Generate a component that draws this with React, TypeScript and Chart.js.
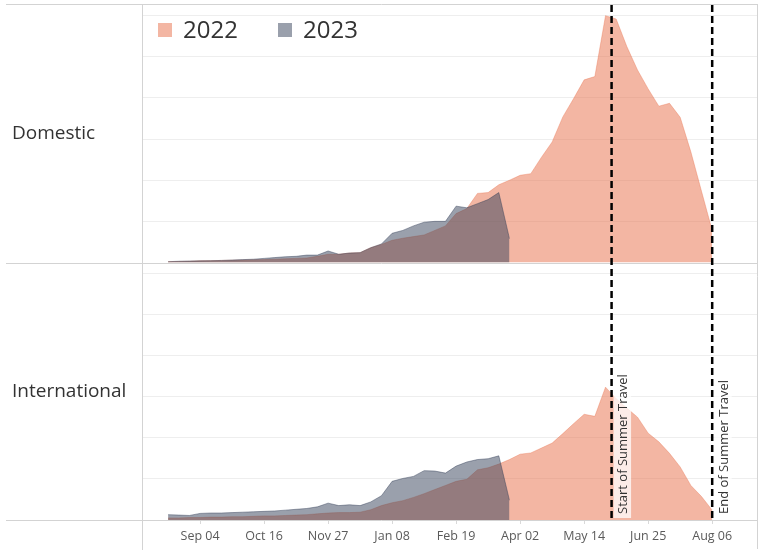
import React, { useEffect, useRef } from 'react';
import { Chart, registerables } from 'chart.js';

Chart.register(...registerables);

// ---- data ----
const weekLabels = [
  'Aug 14', 'Aug 21', 'Aug 28', 'Sep 04', 'Sep 11', 'Sep 18', 'Sep 25', 'Oct 02', 'Oct 09', 'Oct 16',
  'Oct 23', 'Oct 30', 'Nov 06', 'Nov 13', 'Nov 20', 'Nov 27', 'Dec 04', 'Dec 11', 'Dec 18', 'Dec 25',
  'Jan 01', 'Jan 08', 'Jan 15', 'Jan 22', 'Jan 29', 'Feb 05', 'Feb 12', 'Feb 19', 'Feb 26', 'Mar 05',
  'Mar 12', 'Mar 19', 'Mar 26', 'Apr 02', 'Apr 09', 'Apr 16', 'Apr 23', 'Apr 30', 'May 07', 'May 14',
  'May 21', 'May 28', 'Jun 04', 'Jun 11', 'Jun 18', 'Jun 25', 'Jul 02', 'Jul 09', 'Jul 16', 'Jul 23',
  'Jul 30', 'Aug 06',
];
const tickWeekIndices = [3, 9, 15, 21, 27, 33, 39, 45, 51];

const domestic2022 = [
  0.02, 0.025, 0.03, 0.04, 0.045, 0.05, 0.055, 0.06, 0.065, 0.07,
  0.08, 0.09, 0.10, 0.11, 0.15, 0.20, 0.20, 0.23, 0.24, 0.36,
  0.44, 0.54, 0.59, 0.63, 0.67, 0.78, 0.89, 1.19, 1.31, 1.68,
  1.70, 1.89, 2.00, 2.12, 2.16, 2.56, 2.93, 3.54, 3.98, 4.44,
  4.52, 6.00, 5.92, 5.25, 4.68, 4.22, 3.80, 3.87, 3.53, 2.69,
  1.73, 0.78,
];
const domestic2023 = [
  0.02, 0.03, 0.035, 0.04, 0.045, 0.05, 0.06, 0.07, 0.08, 0.10,
  0.12, 0.14, 0.15, 0.18, 0.18, 0.28, 0.20, 0.23, 0.24, 0.36,
  0.45, 0.71, 0.78, 0.89, 0.98, 1.00, 1.00, 1.37, 1.33, 1.43,
  1.53, 1.70, 0.58,
];
const international2022 = [
  0.05, 0.05, 0.06, 0.06, 0.07, 0.07, 0.08, 0.08, 0.09, 0.10,
  0.10, 0.11, 0.12, 0.13, 0.15, 0.17, 0.18, 0.18, 0.19, 0.25,
  0.35, 0.42, 0.47, 0.55, 0.64, 0.74, 0.84, 0.94, 0.99, 1.22,
  1.27, 1.36, 1.47, 1.60, 1.63, 1.75, 1.87, 2.10, 2.34, 2.57,
  2.52, 3.23, 2.95, 2.72, 2.50, 2.11, 1.90, 1.62, 1.29, 0.84,
  0.57, 0.24,
];
const international2023 = [
  0.13, 0.12, 0.11, 0.16, 0.17, 0.17, 0.18, 0.19, 0.20, 0.21,
  0.22, 0.24, 0.26, 0.28, 0.32, 0.41, 0.35, 0.37, 0.35, 0.44,
  0.59, 0.94, 1.01, 1.06, 1.20, 1.19, 1.14, 1.31, 1.41, 1.47,
  1.49, 1.56, 0.48,
];
const yGridValues = [0, 1, 2, 3, 4, 5, 6];
const seriesNames = ['2022', '2023'];
const rowNames = ['Domestic', 'International'];
const markerWeeks = [41.57, 51];
const markerLabels = ['Start of Summer Travel', 'End of Summer Travel'];

const COLOR_2022 = 'rgba(231,109,71,0.5)';
const COLOR_2023 = 'rgba(53,65,89,0.5)';
const LINE_2022 = 'rgba(231,109,71,0.35)';
const LINE_2023 = 'rgba(53,65,89,0.45)';
const FONT = "'Open Sans', 'DejaVu Sans', sans-serif";

const toPoints = (arr: number[]) => arr.map((v, i) => ({ x: i, y: v }));

const decorPlugin = {
  id: 'decor',
  afterDraw(chart: any) {
    const { ctx, chartArea: ca, scales } = chart;
    const yD = scales.yD;
    const yI = scales.yI;
    const x = scales.x;
    ctx.save();

    // panel borders
    ctx.strokeStyle = '#d3d3d3';
    ctx.lineWidth = 1;
    const hline = (y: number, x0: number, x1: number) => {
      const yy = Math.round(y) + 0.5;
      ctx.beginPath();
      ctx.moveTo(x0, yy);
      ctx.lineTo(x1, yy);
      ctx.stroke();
    };
    const vline = (xx: number, y0: number, y1: number) => {
      const xp = Math.round(xx) + 0.5;
      ctx.beginPath();
      ctx.moveTo(xp, y0);
      ctx.lineTo(xp, y1);
      ctx.stroke();
    };
    hline(ca.top - 1, 6, ca.right);
    hline(yD.bottom, 6, ca.right);
    hline(yI.bottom, 6, ca.right);
    vline(ca.left - 1, ca.top - 1, ca.bottom + 30);
    vline(ca.right, ca.top - 1, ca.bottom + 29);

    // markers
    ctx.font = `13px ${FONT}`;
    markerWeeks.forEach((w, i) => {
      const px = x.getPixelForValue(w);
      const label = markerLabels[i];
      const tw = ctx.measureText(label).width;
      ctx.fillStyle = 'rgba(255,255,255,0.75)';
      ctx.fillRect(px + 2, ca.bottom - 2 - tw - 8, 17.5, tw + 8);
      ctx.save();
      ctx.strokeStyle = '#000';
      ctx.lineWidth = 2.5;
      ctx.setLineDash([7, 4]);
      ctx.beginPath();
      ctx.moveTo(px, ca.top);
      ctx.lineTo(px, ca.bottom);
      ctx.stroke();
      ctx.restore();
      ctx.save();
      ctx.translate(px + 15.5, ca.bottom - 6);
      ctx.rotate(-Math.PI / 2);
      ctx.fillStyle = '#333';
      ctx.textAlign = 'left';
      ctx.textBaseline = 'alphabetic';
      ctx.fillText(label, 0, 0);
      ctx.restore();
    });

    // legend
    const legendColors = [COLOR_2022, COLOR_2023];
    const legendX = [158, 278];
    ctx.font = `24px ${FONT}`;
    ctx.textBaseline = 'middle';
    ctx.textAlign = 'left';
    seriesNames.forEach((name, i) => {
      ctx.fillStyle = legendColors[i];
      ctx.fillRect(legendX[i], 23, 14, 14);
      ctx.fillStyle = '#333';
      ctx.fillText(name, legendX[i] + 25, 31);
    });

    // row labels
    ctx.font = `19px ${FONT}`;
    ctx.fillStyle = '#333';
    ctx.fillText(rowNames[0], 12, (yD.top + yD.bottom) / 2);
    ctx.fillText(rowNames[1], 12, (yI.top + yI.bottom) / 2);

    ctx.restore();
  },
};

const yAxis = (id: string) => ({
  type: 'linear' as const,
  stack: 'rows',
  stackWeight: 1,
  min: 0,
  max: 6.26,
  afterBuildTicks: (s: any) => {
    s.ticks = yGridValues.map((v) => ({ value: v }));
  },
  afterFit: (s: any) => {
    s.width = 0;
  },
  ticks: { display: false },
  grid: {
    drawTicks: false,
    color: (c: any) => (c.tick && c.tick.value === 0 ? 'rgba(0,0,0,0)' : '#eeeeee'),
  },
  border: { display: false },
});

export default function App() {
  const ref = useRef<HTMLCanvasElement>(null);

  useEffect(() => {
    if (!ref.current) return;
    const area = (label: string, data: number[], axis: string, color: string, line: string, order: number) => ({
      label,
      data: toPoints(data),
      yAxisID: axis,
      order,
      fill: 'origin',
      backgroundColor: color,
      borderColor: line,
      borderWidth: 1,
      pointRadius: 0,
      pointHoverRadius: 0,
      tension: 0,
    });
    const chart = new Chart(ref.current, {
      type: 'line',
      data: {
        datasets: [
          area(seriesNames[1], domestic2023, 'yD', COLOR_2023, LINE_2023, 0),
          area(seriesNames[0], domestic2022, 'yD', COLOR_2022, LINE_2022, 1),
          area(seriesNames[1], international2023, 'yI', COLOR_2023, LINE_2023, 0),
          area(seriesNames[0], international2022, 'yI', COLOR_2022, LINE_2022, 1),
        ],
      } as any,
      options: {
        animation: false,
        responsive: true,
        maintainAspectRatio: false,
        layout: { padding: { left: 143, right: 14, top: 5, bottom: 0 } },
        plugins: {
          legend: { display: false },
          tooltip: { enabled: false },
        },
        events: [],
        scales: {
          x: {
            type: 'linear',
            min: -2.35,
            max: 55.2,
            afterBuildTicks: (s: any) => {
              s.ticks = tickWeekIndices.map((v) => ({ value: v }));
            },
            afterFit: (s: any) => {
              s.height = 40;
            },
            ticks: {
              autoSkip: false,
              maxRotation: 0,
              padding: 5,
              color: '#5a5a5a',
              font: { family: FONT, size: 12.5 },
              callback: (v: any) => weekLabels[Math.round(Number(v))],
            },
            grid: { drawOnChartArea: false, drawTicks: true, tickLength: 4, color: '#d9d9d9' },
            border: { display: false },
          },
          yI: yAxis('yI'),
          yD: yAxis('yD'),
        },
      } as any,
      plugins: [decorPlugin],
    });
    return () => chart.destroy();
  }, []);

  return (
    <div style={{ position: 'absolute', left: 0, top: 0, width: 771, height: 560, background: '#fff' }}>
      <canvas ref={ref} />
    </div>
  );
}
